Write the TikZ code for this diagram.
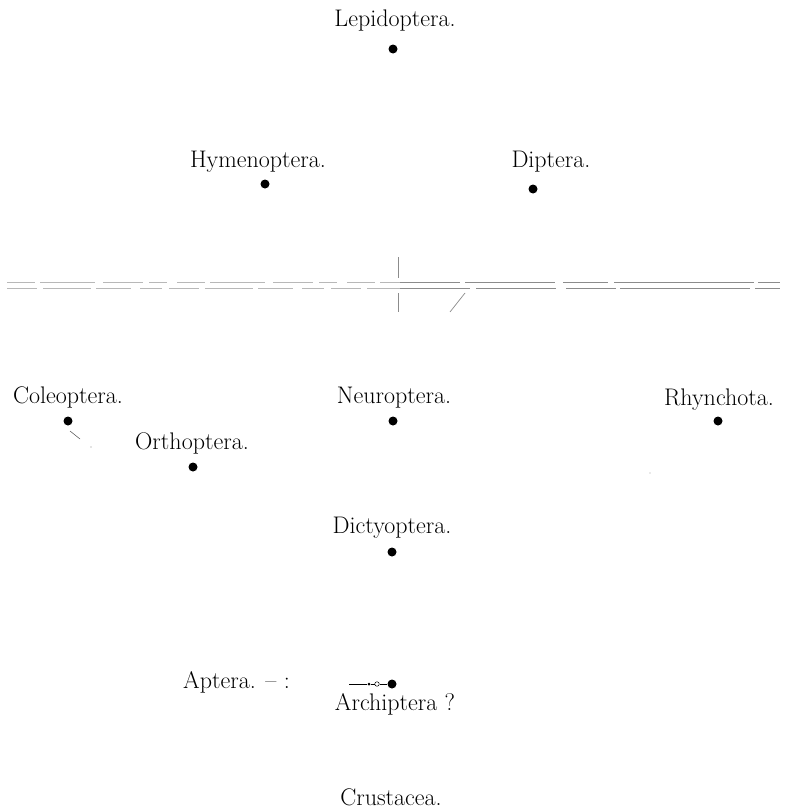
\documentclass[tikz,border=0pt]{standalone}
\begin{document}
\begin{tikzpicture}[x=1pt,y=-1pt,
  taxon/.style={anchor=base,inner sep=0pt,font=\fontsize{24}{28}\selectfont},
  blot/.style={circle,fill=black,inner sep=0pt,minimum size=9pt},
  faint/.style={draw=black!45,line width=0.7pt},
  pale/.style={draw=black!28,line width=0.7pt}]
\useasboundingbox[fill=white] (0,0) rectangle (790,811);

% ---- group names ----
\node[taxon] (lep)  at (395,27)  {Lepidoptera.};
\node[taxon] (hym)  at (258,167) {Hymenoptera.};
\node[taxon] (dip)  at (551,167) {Diptera.};
\node[taxon] (cole) at (68,403)  {Coleoptera.};
\node[taxon] (orth) at (192,449) {Orthoptera.};
\node[taxon] (neur) at (394,403) {Neuroptera.};
\node[taxon] (rhyn) at (719,405) {Rhynchota.};
\node[taxon] (dict) at (392,533) {Dictyoptera.};
\node[taxon,anchor=base west] (apt) at (183,688) {Aptera. -- :};
\node[taxon] (arch) at (395,710) {Archiptera ?};
\node[taxon] (crus) at (391,805) {Crustacea.};

% ---- points ----
\node[blot] (plep)  at (393,49)  {};
\node[blot] (phym)  at (265,184) {};
\node[blot] (pdip)  at (533,189) {};
\node[blot] (pcole) at (68,421)  {};
\node[blot] (porth) at (193,467) {};
\node[blot] (pneur) at (393,421) {};
\node[blot] (prhyn) at (718,421) {};
\node[blot] (pdict) at (392,552) {};
\node[blot] (parch) at (392,684) {};

% ---- dividing double rule ----
\draw[pale,dash pattern=on 28pt off 5pt on 55pt off 8pt on 40pt off 6pt on 18pt off 10pt]
  (7,282) -- (400,282);
\draw[pale,dash pattern=on 30pt off 6pt on 48pt off 5pt on 35pt off 9pt on 22pt off 7pt]
  (7,288) -- (400,288);
\draw[faint,dash pattern=on 60pt off 5pt on 90pt off 8pt on 45pt off 6pt on 140pt off 4pt]
  (400,282) -- (780,282);
\draw[faint,dash pattern=on 70pt off 6pt on 80pt off 10pt on 50pt off 4pt on 130pt off 5pt]
  (400,288) -- (780,288);

% short cross strokes at the rule
\coordinate (vt1) at (398,257);
\coordinate (vt2) at (398,278);
\coordinate (vb1) at (398,293);
\coordinate (vb2) at (398,312);
\draw[faint] (vt1) -- (vt2);
\draw[faint] (vb1) -- (vb2);
\coordinate (sl1) at (465,293);
\coordinate (sl2) at (450,312);
\draw[faint] (sl1) -- (sl2);

% stroke below Coleoptera
\coordinate (ct1) at (70,431);
\coordinate (ct2) at (80,439);
\draw[draw=black!60,line width=0.6pt] (ct1) -- (ct2);
\fill[black!45] (91,447) circle (0.7pt);
\fill[black!35] (650,473) circle (0.6pt);

% small arrow leading to Archiptera
\coordinate (arr) at (349,684);
\node[circle,fill=black,inner sep=0pt,minimum size=3pt] (arrdot) at (369,684) {};
\node[circle,draw=black,line width=0.5pt,inner sep=0pt,minimum size=4.5pt] (arrring) at (377,684) {};
\draw[line width=0.7pt] (arr) -- (arrdot);
\draw[line width=0.5pt] (arrdot) -- (arrring);
\draw[line width=0.5pt] (arrring) -- (parch);
\end{tikzpicture}
\end{document}
